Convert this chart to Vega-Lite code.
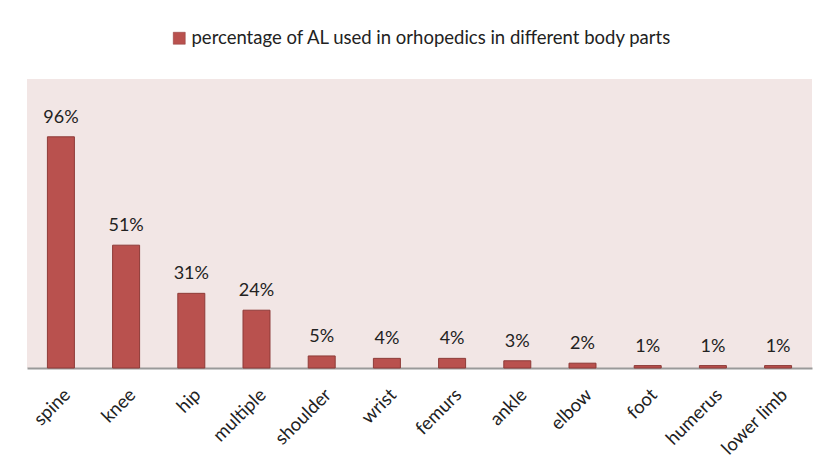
{
  "$schema": "https://vega.github.io/schema/vega-lite/v6.json",
  "autosize": {"type": "none"},
  "width": 785,
  "height": 289,
  "padding": {"left": 27, "top": 79, "right": 8, "bottom": 96},
  "background": "#ffffff",
  "config": {
    "view": {"fill": "#f2e6e5", "stroke": null},
    "font": "Lato"
  },
  "data": {
    "values": [
      {"part": "spine", "series": "percentage of AL used in orhopedics in different body parts", "value": 0.96},
      {"part": "knee", "series": "percentage of AL used in orhopedics in different body parts", "value": 0.51},
      {"part": "hip", "series": "percentage of AL used in orhopedics in different body parts", "value": 0.31},
      {"part": "multiple", "series": "percentage of AL used in orhopedics in different body parts", "value": 0.24},
      {"part": "shoulder", "series": "percentage of AL used in orhopedics in different body parts", "value": 0.05},
      {"part": "wrist", "series": "percentage of AL used in orhopedics in different body parts", "value": 0.04},
      {"part": "femurs", "series": "percentage of AL used in orhopedics in different body parts", "value": 0.04},
      {"part": "ankle", "series": "percentage of AL used in orhopedics in different body parts", "value": 0.03},
      {"part": "elbow", "series": "percentage of AL used in orhopedics in different body parts", "value": 0.02},
      {"part": "foot", "series": "percentage of AL used in orhopedics in different body parts", "value": 0.01},
      {"part": "humerus", "series": "percentage of AL used in orhopedics in different body parts", "value": 0.01},
      {"part": "lower limb", "series": "percentage of AL used in orhopedics in different body parts", "value": 0.01}
    ]
  },
  "encoding": {
    "x": {
      "field": "part", "type": "nominal", "sort": null,
      "scale": {"paddingInner": 0.586, "paddingOuter": 0.313},
      "axis": {
        "title": null, "labelAngle": -45, "labelAlign": "right", "labelBaseline": "top",
        "labelFontSize": 18.5, "labelColor": "#222222", "labelPadding": 17, "labelDx": -3,
        "ticks": false, "domainColor": "#9a9a9a", "domainWidth": 2
      }
    },
    "y": {
      "field": "value", "type": "quantitative",
      "scale": {"domain": [0, 1.2]},
      "axis": null
    }
  },
  "layer": [
    {
      "mark": {"type": "bar", "stroke": "#8e3b38", "strokeWidth": 1},
      "encoding": {
        "color": {
          "field": "series", "type": "nominal",
          "scale": {"range": ["#b9514e"]},
          "legend": {
            "title": null, "orient": "none", "legendX": 143, "legendY": -50,
            "labelFontSize": 18.5, "labelColor": "#222222", "symbolType": "square",
            "symbolSize": 144, "symbolStrokeColor": "#8e3b38", "symbolStrokeWidth": 0.5,
            "labelOffset": 3, "labelLimit": 600
          }
        }
      }
    },
    {
      "mark": {"type": "text", "baseline": "alphabetic", "dy": -14, "fontSize": 18, "color": "#222222"},
      "encoding": {
        "text": {"field": "value", "type": "quantitative", "format": ".0%"}
      }
    }
  ]
}
